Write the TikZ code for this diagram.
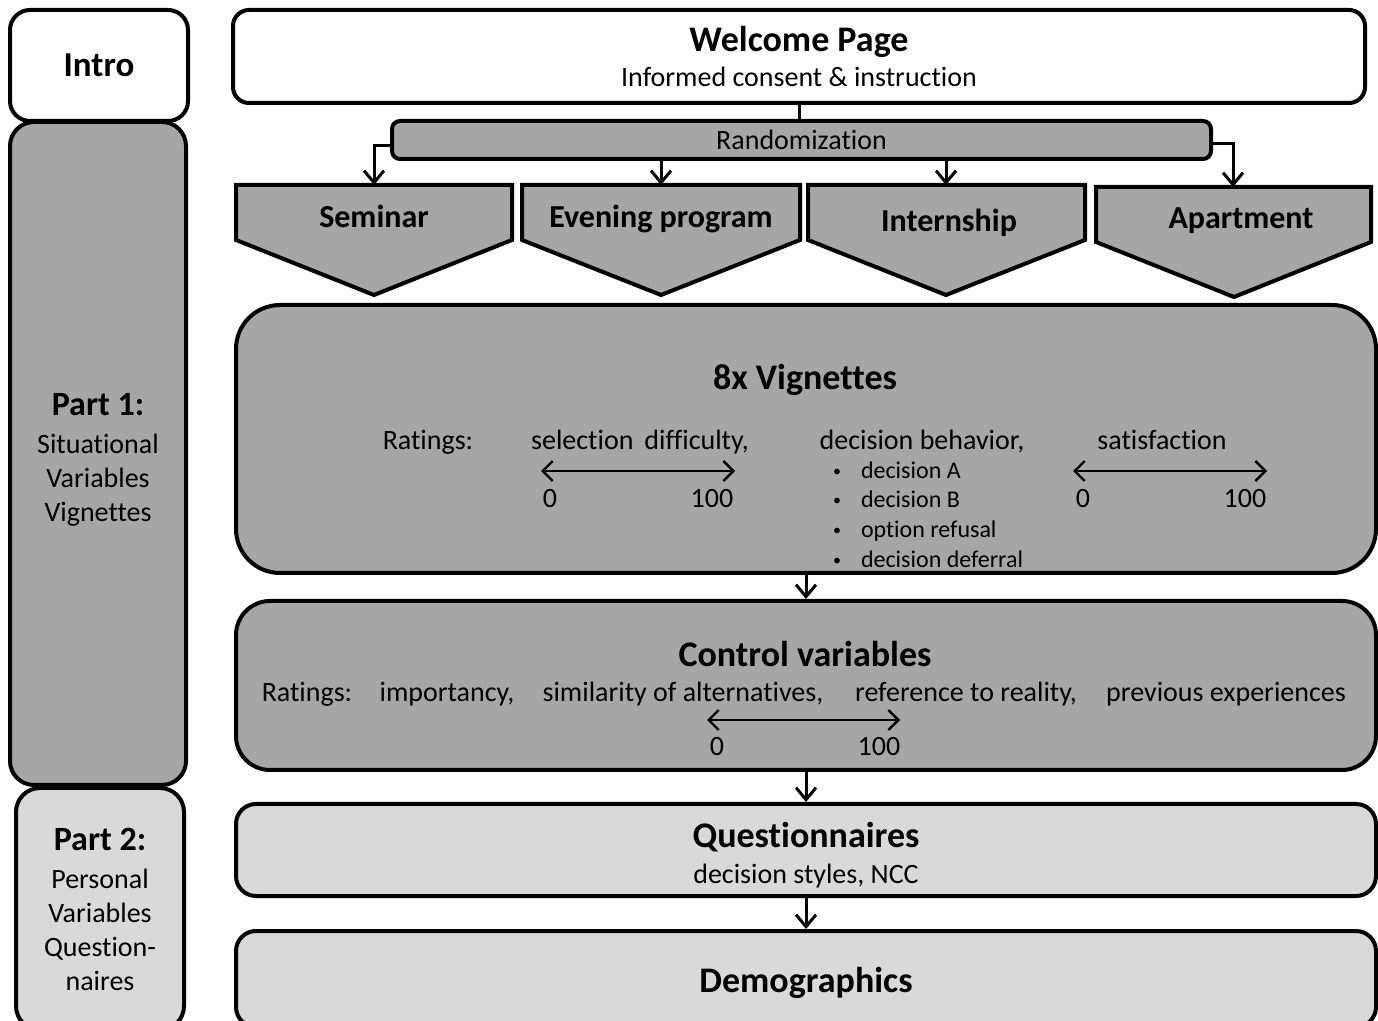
\documentclass[tikz,border=0pt]{standalone}
\usepackage{fontspec}
\setmainfont{Carlito}[Ligatures=NoCommon]
\usepackage{tikz}
\usetikzlibrary{positioning,arrows.meta}
\usepackage{xcolor}

\definecolor{darkfill}{HTML}{A6A6A6}
\definecolor{lightfill}{HTML}{D9D9D9}

\tikzset{
  stage/.style={draw, line width=2pt, rounded corners=#1, inner sep=0pt, align=center},
  stage/.default=10pt,
  choice/.style={draw, line width=2pt, fill=darkfill},
  flow/.style={line width=1.5pt, -{Straight Barb[length=6pt,width=10pt,line width=1.5pt]}},
  scalebar/.style={line width=1.2pt, {Straight Barb[length=5pt,width=10pt]}-{Straight Barb[length=5pt,width=10pt]}},
  head/.style={font=\fontsize{18}{21}\selectfont\bfseries, text height=13pt, text depth=0pt},
  sit/.style={font=\fontsize{16}{19}\selectfont\bfseries, text height=11.5pt, text depth=0.5pt},
  txt/.style={font=\fontsize{14}{17}\selectfont, text height=10pt, text depth=0pt},
  small/.style={font=\fontsize{12}{15}\selectfont, anchor=west, text height=9pt, text depth=0pt},
}
\newcommand{\itemdot}{{\fontsize{8}{8}\selectfont\raisebox{1pt}{•}}\hspace{10pt}}

\begin{document}
\begin{tikzpicture}[x=0.5pt,y=-0.5pt]
    \useasboundingbox (0,0) rectangle (1378,1021);
    \clip (0,0) rectangle (1378,1021);

    % left column
    \node[stage=10pt, fill=white, minimum width=89pt, minimum height=55.5pt,
          font=\fontsize{17.5}{20}\selectfont\bfseries] at (99,65.5) (intro) {Intro};
    \node[stage=12pt, fill=darkfill, minimum width=88pt, minimum height=331.5pt] at (98,453.5) (part1) {};
    \node[align=center, font=\fontsize{14}{17}\selectfont] at (98,460) (part1text)
          {{\fontsize{17}{20}\selectfont\bfseries Part 1:}\\[2pt] Situational\\ Variables\\ Vignettes};
    \node[stage=12pt, fill=lightfill, minimum width=84pt, minimum height=121pt,
          font=\fontsize{14}{17}\selectfont] at (100,909) (part2)
          {{\fontsize{17}{20}\selectfont\bfseries Part 2:}\\[2pt] Personal\\ Variables\\ Question-\\ naires};

    % welcome and randomization
    \node[stage=8pt, fill=white, minimum width=566pt, minimum height=46.5pt] at (799,56.5) (welcome)
          {{\fontsize{18}{21}\selectfont\bfseries Welcome Page}\\[4pt]
           {\fontsize{14}{17}\selectfont Informed consent \& instruction}};
    \node[stage=4pt, fill=darkfill, minimum width=409.5pt, minimum height=19pt, txt] at (801.5,140) (rand)
          {Randomization};
    \draw[line width=1.5pt] (welcome.south -| 799,0) -- (rand.north -| 799,0);

    % the four situations
    \draw[choice] (236,185) -- (512,185) -- (512,240) -- (374,295) -- (236,240) -- cycle;
    \draw[choice] (522,185) -- (800,185) -- (800,240) -- (661,295) -- (522,240) -- cycle;
    \draw[choice] (808,185) -- (1085,185) -- (1085,240) -- (946,295) -- (808,240) -- cycle;
    \draw[choice] (1096,187) -- (1371,187) -- (1371,242) -- (1234,297) -- (1096,242) -- cycle;
    \node[sit] at (374,217) (seminar) {Seminar};
    \node[sit] at (661,217) (evening) {Evening program};
    \node[sit] at (949,221) (internship) {Internship};
    \node[sit] at (1241,218) (apartment) {Apartment};
    \coordinate (seminartop) at (374,185);
    \coordinate (eveningtop) at (661,185);
    \coordinate (internshiptop) at (946,185);
    \coordinate (apartmenttop) at (1233,187);

    \draw[flow] ([yshift=-3pt]rand.west) -| (seminartop);
    \draw[flow] (rand.south -| eveningtop) -- (eveningtop);
    \draw[flow] (rand.south -| internshiptop) -- (internshiptop);
    \draw[flow] ([yshift=-2pt]rand.east) -| (apartmenttop);

    % vignettes
    \node[stage=22pt, fill=darkfill, minimum width=570pt, minimum height=134pt] at (806,439) (vign) {};
    \node[head] at (805,377) (vigntitle) {8x Vignettes};
    \node[txt] at (428,440) (vignrat) {Ratings:};
    \node[txt] at (640,440) (difficulty) {selection\, difficulty,};
    \node[txt] at (922,440) (behavior) {decision behavior,};
    \node[txt] at (1162,440) (satisfaction) {satisfaction};
    \node[small] at (826,470) (decA) {\itemdot decision A};
    \node[small] at (826,499) (decB) {\itemdot decision B};
    \node[small] at (826,529) (refusal) {\itemdot option refusal};
    \node[small] at (826,559) (deferral) {\itemdot decision deferral};
    \coordinate (diffl) at (541,471);
    \coordinate (diffr) at (735,471);
    \coordinate (satl) at (1073,471);
    \coordinate (satr) at (1267,471);
    \draw[scalebar] (diffl) -- (diffr);
    \draw[scalebar] (satl) -- (satr);
    \node[txt] at (550,498) (diffmin) {0};
    \node[txt] at (712,498) (diffmax) {100};
    \node[txt] at (1083,498) (satmin) {0};
    \node[txt] at (1245,498) (satmax) {100};

    % control variables
    \node[stage=17pt, fill=darkfill, minimum width=570pt, minimum height=84.5pt] at (806,685.5) (ctrl) {};
    \node[head] at (805,654) (ctrltitle) {Control variables};
    \node[txt] at (307,692) (ctrlrat) {Ratings:};
    \node[txt] at (447,692) (importancy) {importancy,};
    \node[txt] at (683,692) (similarity) {similarity of alternatives,};
    \node[txt] at (966,692) (reality) {reference to reality,};
    \node[txt] at (1226,692) (experiences) {previous experiences};
    \coordinate (ctrll) at (707,720);
    \coordinate (ctrlr) at (900,720);
    \draw[scalebar] (ctrll) -- (ctrlr);
    \node[txt] at (717,746) (ctrlmin) {0};
    \node[txt] at (879,746) (ctrlmax) {100};

    % part 2
    \node[stage=10pt, fill=lightfill, minimum width=570pt, minimum height=46pt] at (806,850) (quest) {};
    \node[head] at (806,835) (questtitle) {Questionnaires};
    \node[txt] at (806,874) (questsub) {decision styles, NCC};
    \node[stage=10pt, fill=lightfill, minimum width=570pt, minimum height=48pt, head] at (806,979) (demo)
          {Demographics};

    \draw[flow] (vign.south) -- (ctrl.north);
    \draw[flow] (ctrl.south) -- (quest.north);
    \draw[flow] (quest.south) -- (demo.north);
  \end{tikzpicture}
\end{document}
